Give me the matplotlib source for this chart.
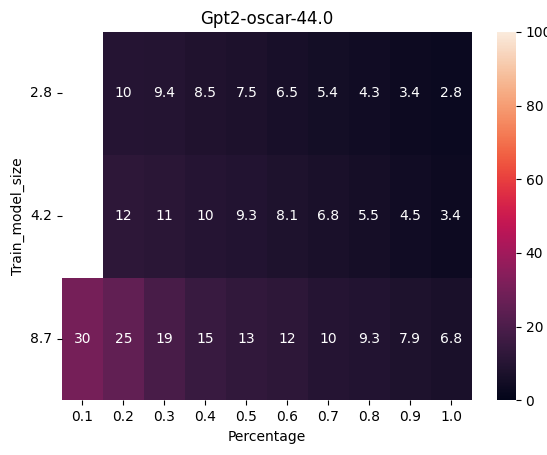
import numpy as np
import pandas as pd
import seaborn as sns
import matplotlib
matplotlib.use("Agg")
import matplotlib.pyplot as plt

percentages = [0.1, 0.2, 0.3, 0.4, 0.5, 0.6, 0.7, 0.8, 0.9, 1.0]
model_sizes = [2.8, 4.2, 8.7]
row_28 = [np.nan, 10, 9.4, 8.5, 7.5, 6.5, 5.4, 4.3, 3.4, 2.8]
row_42 = [np.nan, 12, 11, 10, 9.3, 8.1, 6.8, 5.5, 4.5, 3.4]
row_87 = [30, 25, 19, 15, 13, 12, 10, 9.3, 7.9, 6.8]

df = pd.DataFrame([row_28, row_42, row_87], index=model_sizes, columns=percentages)
df.index.name = "Train_model_size"
df.columns.name = "Percentage"

fig = plt.figure(figsize=(5.47, 4.55), dpi=100)
ax = sns.heatmap(df, annot=True, vmin=0, vmax=100)
ax.set_title("Gpt2-oscar-44.0")
plt.yticks(rotation=0)
fig.subplots_adjust(left=0.113, right=1.05, top=0.93, bottom=0.12)
plt.savefig("out.png", dpi=100)
